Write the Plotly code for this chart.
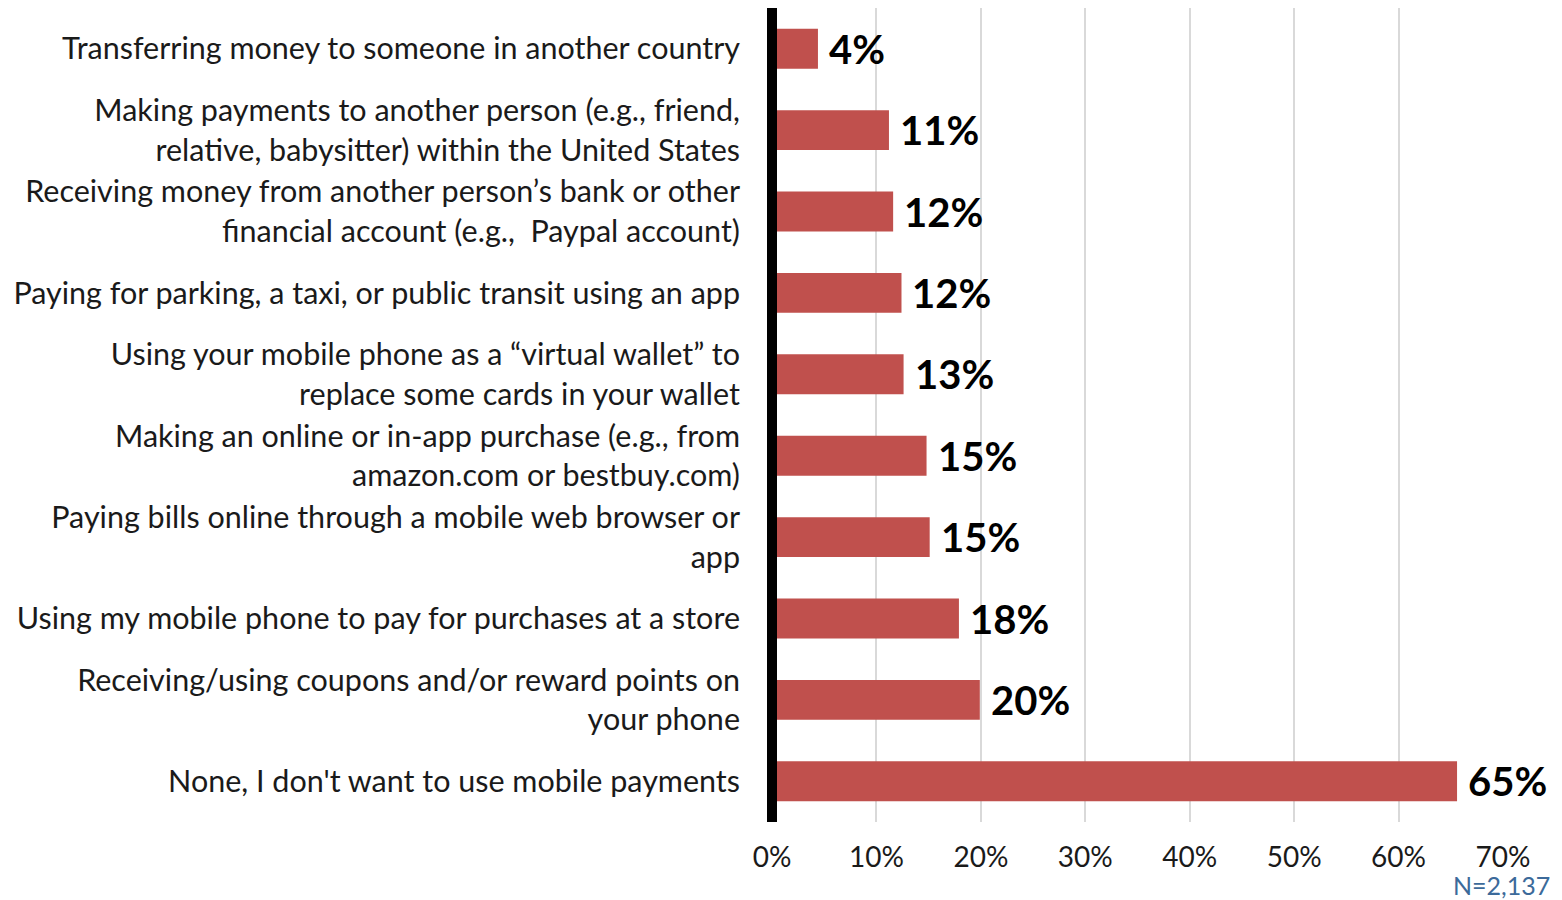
import plotly.graph_objects as go

categories = [
    "Transferring money to someone in another country",
    "Making payments to another person (e.g., friend,<br>relative, babysitter) within the United States",
    "Receiving money from another person’s bank or other<br>financial account (e.g.,  Paypal account)",
    "Paying for parking, a taxi, or public transit using an app",
    "Using your mobile phone as a “virtual wallet” to<br>replace some cards in your wallet",
    "Making an online or in-app purchase (e.g., from<br>amazon.com or bestbuy.com)",
    "Paying bills online through a mobile web browser or<br>app",
    "Using my mobile phone to pay for purchases at a store",
    "Receiving/using coupons and/or reward points on<br>your phone",
    "None, I don't want to use mobile payments",
]
values = [4.4, 11.2, 11.6, 12.4, 12.6, 14.8, 15.1, 17.9, 19.9, 65.6]
value_labels = ["4%", "11%", "12%", "12%", "13%", "15%", "15%", "18%", "20%", "65%"]
x_ticks = [0, 10, 20, 30, 40, 50, 60, 70]
x_tick_labels = ["0%", "10%", "20%", "30%", "40%", "50%", "60%", "70%"]
note = "N=2,137"

LABEL_FONT = "Lato, sans-serif"

fig = go.Figure()
fig.add_trace(go.Bar(
    x=values, y=categories, orientation="h",
    marker=dict(color="#C0504D", line=dict(width=0)),
    width=0.49,
    hoverinfo="skip",
))

for v, c, t in zip(values, categories, value_labels):
    fig.add_annotation(
        x=v, y=c, text="<b>" + t + "</b>", showarrow=False,
        xanchor="left", yanchor="middle", xshift=9,
        font=dict(family=LABEL_FONT, size=40, color="#000000"),
    )

fig.add_annotation(
    x=1.0, y=0, xref="paper", yref="paper", text=note, showarrow=False,
    xanchor="right", yanchor="middle", xshift=49, yshift=-63,
    font=dict(family=LABEL_FONT, size=25, color="#3C6A9A"),
)

# thick black vertical axis line at the 0% position (plot's left edge)
fig.add_shape(
    type="line", xref="paper", yref="paper", x0=0, x1=0, y0=0, y1=1,
    line=dict(color="#000000", width=10), layer="above",
)

fig.update_layout(
    width=1562, height=900,
    margin=dict(l=764, r=67, t=0, b=86),
    plot_bgcolor="white", paper_bgcolor="white",
    showlegend=False,
    bargap=0.5,
    font=dict(family=LABEL_FONT, color="#1A1A1A"),
)
fig.update_xaxes(
    range=[0, 70], tickvals=x_ticks, ticktext=x_tick_labels,
    showgrid=True, gridcolor="#D9D9D9", gridwidth=2,
    zeroline=False, showline=False,
    tickfont=dict(family=LABEL_FONT, size=28, color="#1A1A1A"),
    ticks="", ticklabelstandoff=16,
)
fig.update_yaxes(
    autorange="reversed", showgrid=False, zeroline=False,
    showline=False,
    tickfont=dict(family=LABEL_FONT, size=30.5, color="#1A1A1A"),
    ticks="", ticklabelstandoff=31,
)

fig.write_html("out.html")
